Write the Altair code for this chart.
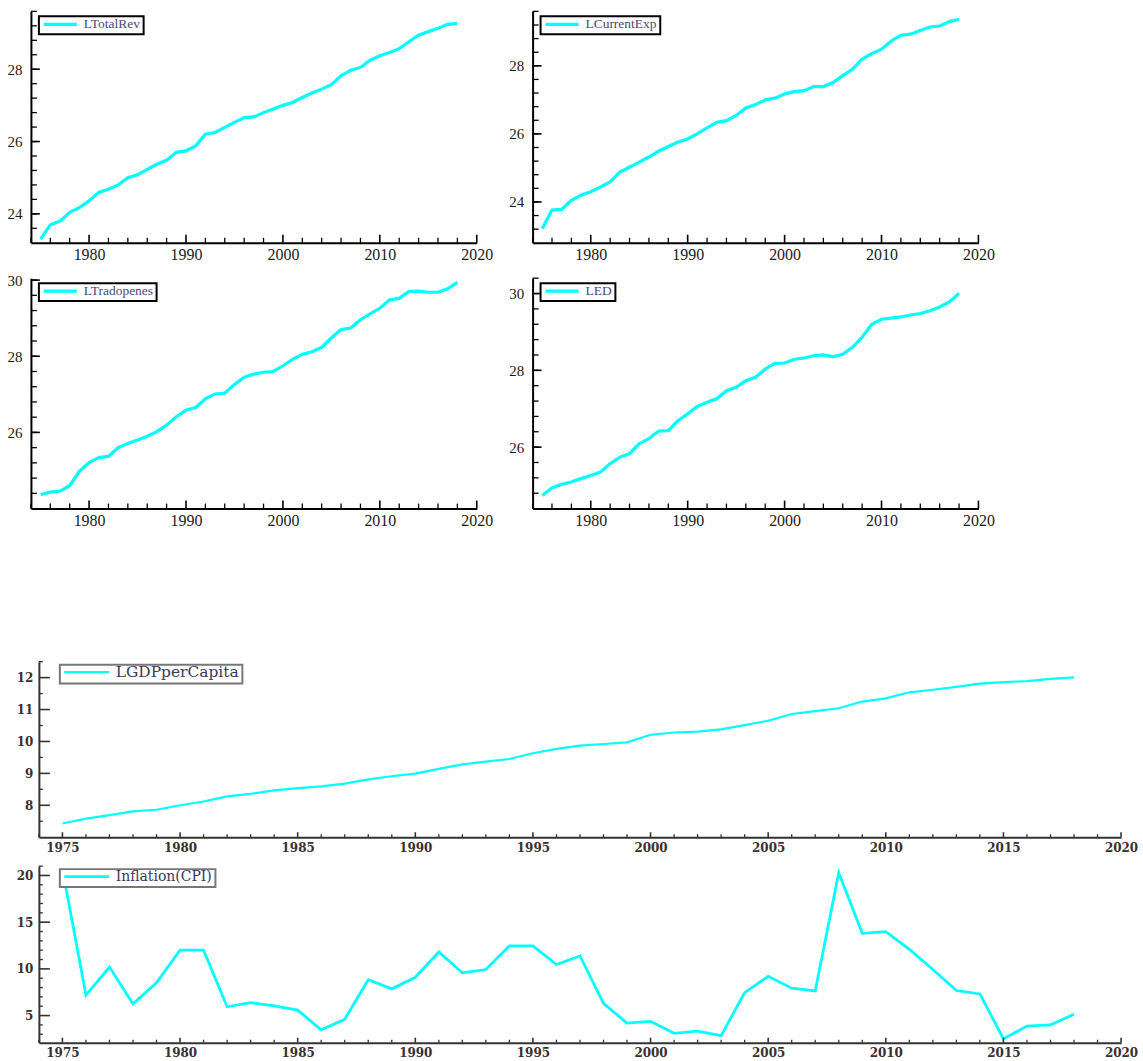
import altair as alt
import pandas as pd

# Annual series, 1975-2018
YEARS = list(range(1975, 2019))

LTOTALREV = [23.30, 23.70, 23.80, 24.04, 24.17, 24.36, 24.59, 24.68, 24.80, 25.00,
             25.08, 25.23, 25.37, 25.48, 25.70, 25.74, 25.88, 26.20, 26.25, 26.39,
             26.53, 26.66, 26.68, 26.80, 26.90, 27.00, 27.08, 27.22, 27.34, 27.45,
             27.57, 27.82, 27.97, 28.05, 28.25, 28.37, 28.46, 28.57, 28.76, 28.94,
             29.04, 29.13, 29.24, 29.26]

LCURRENTEXP = [23.22, 23.76, 23.78, 24.05, 24.20, 24.30, 24.44, 24.59, 24.88, 25.02,
               25.17, 25.32, 25.49, 25.63, 25.76, 25.85, 26.00, 26.18, 26.34, 26.39,
               26.54, 26.76, 26.86, 27.00, 27.05, 27.17, 27.24, 27.27, 27.39, 27.39,
               27.51, 27.71, 27.90, 28.20, 28.36, 28.49, 28.73, 28.90, 28.93, 29.04,
               29.14, 29.17, 29.30, 29.37]

LTRADOPENES = [24.37, 24.43, 24.46, 24.60, 24.98, 25.21, 25.34, 25.37, 25.60, 25.71,
               25.80, 25.90, 26.02, 26.19, 26.41, 26.58, 26.65, 26.88, 27.01, 27.03,
               27.26, 27.45, 27.53, 27.58, 27.60, 27.75, 27.92, 28.05, 28.12, 28.23,
               28.48, 28.70, 28.74, 28.96, 29.11, 29.26, 29.48, 29.52, 29.70, 29.71,
               29.68, 29.68, 29.77, 29.94]

LED = [24.74, 24.94, 25.03, 25.09, 25.18, 25.26, 25.35, 25.57, 25.74, 25.83,
       26.09, 26.22, 26.42, 26.43, 26.69, 26.87, 27.06, 27.17, 27.26, 27.47,
       27.56, 27.73, 27.82, 28.03, 28.18, 28.19, 28.29, 28.32, 28.38, 28.40,
       28.35, 28.42, 28.60, 28.86, 29.20, 29.33, 29.36, 29.39, 29.44, 29.48,
       29.55, 29.65, 29.78, 30.00]

LGDPPERCAPITA = [7.43, 7.58, 7.69, 7.81, 7.86, 8.00, 8.12, 8.28, 8.36, 8.47,
                 8.54, 8.59, 8.68, 8.81, 8.91, 8.99, 9.14, 9.28, 9.37, 9.45,
                 9.63, 9.77, 9.87, 9.92, 9.97, 10.21, 10.28, 10.31, 10.38, 10.51,
                 10.65, 10.86, 10.95, 11.04, 11.25, 11.35, 11.54, 11.62, 11.71, 11.81,
                 11.86, 11.89, 11.96, 12.01]

INFLATION = [20.7, 7.2, 10.2, 6.25, 8.5, 12.0, 12.0, 5.94, 6.38, 6.05,
             5.58, 3.48, 4.6, 8.84, 7.86, 9.1, 11.8, 9.57, 9.93, 12.46,
             12.46, 10.47, 11.38, 6.3, 4.2, 4.38, 3.1, 3.33, 2.86, 7.46,
             9.2, 7.93, 7.64, 20.3, 13.8, 13.99, 12.1, 9.93, 7.68, 7.32,
             2.5, 3.88, 4.0, 5.14]

# Tick positions
X_MAJOR_10 = [1980, 1990, 2000, 2010, 2020]
X_MINOR_2 = [y for y in range(1974, 2021, 2) if y not in X_MAJOR_10]
X_MAJOR_5 = list(range(1975, 2021, 5))
X_MINOR_1 = [y for y in range(1974, 2021) if y not in X_MAJOR_5]

CYAN = "#00ffff"
X_DOMAIN = [1974, 2020]


def frange(start, stop, step):
    out, v = [], start
    while v <= stop + 1e-9:
        out.append(round(v, 4))
        v += step
    return out


def panel(values, name, ydom, y_major, y_minor, x_major, x_minor, w, h, st):
    df = pd.DataFrame({"Year": YEARS, "Value": values, "Series": name})
    xs = alt.Scale(domain=X_DOMAIN, nice=False, zero=False)
    ys = alt.Scale(domain=ydom, nice=False, zero=False)

    xaxis = alt.Axis(values=x_major, format="d", ticks=False, grid=False,
                     domainColor=st["axis"], domainWidth=2,
                     labelFont=st["font"], labelFontSize=st["xfs"],
                     labelFontWeight=st["fw"], labelColor=st["lc"],
                     labelPadding=st["xpad"], labelFlush=False,
                     labelOverlap=False, labelBound=False, minExtent=st["xext"])
    yaxis = alt.Axis(values=y_major, format="d", ticks=False, grid=False,
                     domainColor=st["axis"], domainWidth=2,
                     labelFont=st["font"], labelFontSize=st["yfs"],
                     labelFontWeight=st["fw"], labelColor=st["lc"],
                     labelPadding=st["ypad"], labelFlush=False,
                     labelOverlap=False, labelBound=False, minExtent=st["yext"])

    line = alt.Chart(df).mark_line(
        strokeWidth=st["lw"], color=CYAN, clip=True
    ).encode(
        x=alt.X("Year:Q", scale=xs, title=None, axis=xaxis),
        y=alt.Y("Value:Q", scale=ys, title=None, axis=yaxis),
        color=alt.Color("Series:N",
                        scale=alt.Scale(domain=[name], range=[CYAN]),
                        legend=alt.Legend(orient="none", legendX=st["lx"], legendY=st["ly"],
                                          title=None, symbolType="stroke",
                                          symbolStrokeWidth=st["lw"],
                                          symbolSize=st["ss"],
                                          labelFont=st["font"], labelFontSize=st["lfs"],
                                          labelFontWeight=st["lfw"],
                                          labelColor=st["legc"], labelOffset=5,
                                          strokeColor=st["legb"], fillColor="white",
                                          padding=3, clipHeight=st["ch"])),
    )

    def xticks(vals, length, width):
        return alt.Chart(pd.DataFrame({"Year": vals})).mark_rule(
            color=st["axis"], strokeWidth=width
        ).encode(x=alt.X("Year:Q", scale=xs, title=None, axis=xaxis),
                 y=alt.value(h), y2=alt.value(h - length))

    def yticks(vals, length, width):
        return alt.Chart(pd.DataFrame({"Value": vals})).mark_rule(
            color=st["axis"], strokeWidth=width
        ).encode(y=alt.Y("Value:Q", scale=ys, title=None, axis=yaxis),
                 x=alt.value(0), x2=alt.value(length))

    return alt.layer(
        line,
        xticks(x_major, st["xM"], 1.6), xticks(x_minor, st["xm"], 1.3),
        yticks(y_major, st["yM"], 1.6), yticks(y_minor, st["ym"], 1.3),
    ).properties(width=w, height=h)


TOP = dict(lw=3.2, axis="black", font="Liberation Serif", xfs=16, yfs=15, fw="normal",
           lc="#1a1a1a", xpad=4, ypad=9, ss=1100, lfs=13.5, lfw="normal",
           legc="#4a4a78", legb="black", ch=10, xM=8, xm=5, yM=9, ym=6, lx=8, ly=5,
           xext=26, yext=28)
BOT = dict(lw=2.2, axis="#333333", font="DejaVu Serif", xfs=12, yfs=12, fw="bold",
           lc="#3a3030", xpad=5, ypad=6, ss=2025, lfs=14, lfw="normal",
           legc="#3a3a60", legb="#777777", ch=9, xM=5, xm=3, yM=11, ym=4, lx=21, ly=4,
           xext=22, yext=36)

TW, TH = 447, 232
BW, BH = 1085, 176

p1 = panel(LTOTALREV, "LTotalRev", [23.2, 29.6], [24, 26, 28],
           frange(23.6, 29.6, 0.4), X_MAJOR_10, X_MINOR_2, TW, TH, TOP)
p2 = panel(LCURRENTEXP, "LCurrentExp", [22.8, 29.6], [24, 26, 28],
           frange(23.2, 29.6, 0.4), X_MAJOR_10, X_MINOR_2, TW, TH, TOP)
p3 = panel(LTRADOPENES, "LTradopenes", [24.0, 30.05], [26, 28, 30],
           frange(24.4, 30.0, 0.4), X_MAJOR_10, X_MINOR_2, TW, TH - 1, TOP)
p4 = panel(LED, "LED", [24.4, 30.4], [26, 28, 30],
           frange(24.8, 30.4, 0.4), X_MAJOR_10, X_MINOR_2, TW, TH - 1, TOP)

p5 = panel(LGDPPERCAPITA, "LGDPperCapita", [7.0, 12.5], [8, 9, 10, 11, 12],
           frange(7.5, 12.5, 1.0), X_MAJOR_5, X_MINOR_1, BW, BH,
           dict(BOT, lw=2.2, lfs=15.5, ly=3))
p6 = panel(INFLATION, "Inflation(CPI)", [2.1, 21.0], [5, 10, 15, 20],
           [v for v in range(3, 22) if v % 5 != 0], X_MAJOR_5, X_MINOR_1, BW, BH + 1,
           dict(BOT, lw=2.8, ly=3))


def spacer():
    # invisible 1px cell so each block's own axis extent sets its left offset
    return alt.Chart(pd.DataFrame({"a": [0]})).mark_point(opacity=0, size=0).encode(
        x=alt.value(0), y=alt.value(0)).properties(width=1, height=1)


IND = dict(x="independent", y="independent", color="independent")

row1 = alt.hconcat(p1, p2, spacing=12).resolve_scale(**IND)
row2 = alt.hconcat(p3, p4, spacing=12).resolve_scale(**IND)
top = alt.vconcat(row1, row2, spacing=3.5).resolve_scale(**IND)
bottom = alt.vconcat(p5, p6, spacing=6).resolve_scale(**IND)

top_row = alt.hconcat(spacer(), top, spacing=0).resolve_scale(**IND)
bottom_row = alt.hconcat(spacer(), bottom, spacing=0).resolve_scale(**IND)

chart = alt.vconcat(top_row, bottom_row, spacing=126).resolve_scale(
    **IND
).resolve_legend(color="independent").properties(
    padding={"left": 2, "top": 9, "right": 5, "bottom": 5},
    background="white",
).configure_view(stroke=None).configure_legend(strokeWidth=2)

chart.save("out.html", embed_options={"renderer": "svg", "actions": False})
